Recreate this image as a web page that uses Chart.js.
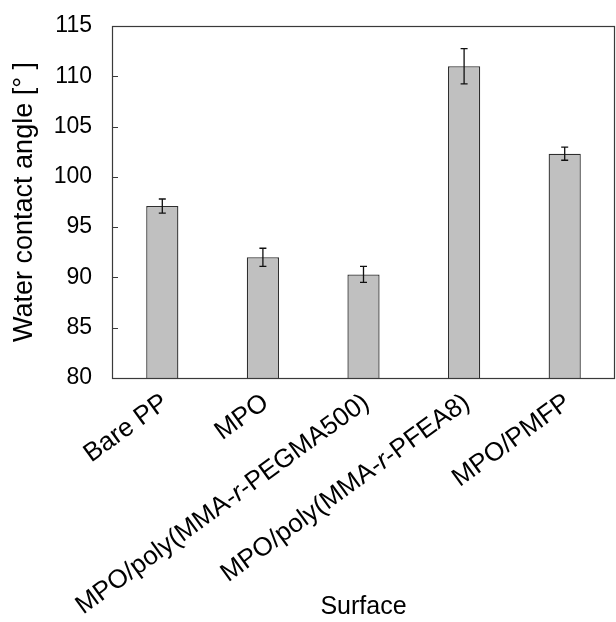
<!DOCTYPE html>
<html>
<head>
<meta charset="utf-8">
<script src="https://cdn.jsdelivr.net/npm/chart.js@4.4.1/dist/chart.umd.min.js"></script>
<style>
  html, body { margin: 0; padding: 0; background: #fff; }
  #wrap { width: 616px; height: 622px; }
</style>
</head>
<body>
<div id="wrap"><canvas id="grafWca" width="616" height="622"></canvas></div>
<script>
// data
const surfaces = ['Bare PP', 'MPO', 'MPO/poly(MMA-r-PEGMA500)', 'MPO/poly(MMA-r-PFEA8)', 'MPO/PMFP'];
const angles = [97.1, 92.0, 90.3, 111.0, 102.3];
const errs = [0.7, 0.9, 0.8, 1.75, 0.65];
const yTicks = [80, 85, 90, 95, 100, 105, 110, 115];

const fam = '"Liberation Sans", Arial, sans-serif';
const lineCol = '#3a3a3a';

// frame, inward y ticks, error bars, x labels with italic "r"
const extras = {
    id: 'extras',
    afterDatasetsDraw(chart) {
        const ctx = chart.ctx;
        const y = chart.scales.y;
        const meta = chart.getDatasetMeta(0);
        ctx.save();
        ctx.strokeStyle = '#111';
        ctx.lineWidth = 1.3;
        meta.data.forEach(function(bar, i) {
            const yt = y.getPixelForValue(angles[i] + errs[i]);
            const yb = y.getPixelForValue(angles[i] - errs[i]);
            ctx.beginPath();
            ctx.moveTo(bar.x, yt); ctx.lineTo(bar.x, yb);
            ctx.moveTo(bar.x - 3.5, yt); ctx.lineTo(bar.x + 3.5, yt);
            ctx.moveTo(bar.x - 3.5, yb); ctx.lineTo(bar.x + 3.5, yb);
            ctx.stroke();
        });
        ctx.restore();
    },
    afterDraw(chart) {
        const ctx = chart.ctx;
        const a = chart.chartArea;
        const x = chart.scales.x;
        const y = chart.scales.y;
        ctx.save();
        ctx.strokeStyle = lineCol;
        ctx.lineWidth = 1.2;
        ctx.strokeRect(a.left + 0.5, a.top + 0.5, a.right - a.left - 1, a.bottom - a.top);
        ctx.beginPath();
        yTicks.forEach(function(v) {
            const py = Math.round(y.getPixelForValue(v)) + 0.5;
            ctx.moveTo(a.left, py); ctx.lineTo(a.left + 6, py);
        });
        ctx.stroke();

        // category labels
        const nf = '26px ' + fam;
        const itf = 'italic 26px ' + fam;
        ctx.fillStyle = '#000';
        ctx.textBaseline = 'middle';
        ctx.textAlign = 'left';
        surfaces.forEach(function(lab, i) {
            let parts;
            if (lab.indexOf('-r-') >= 0) {
                const s = lab.split('-r-');
                parts = [[s[0] + '-', nf], ['r', itf], ['-' + s[1], nf]];
            } else {
                parts = [[lab, nf]];
            }
            let tot = 0;
            parts.forEach(function(p) { ctx.font = p[1]; tot += ctx.measureText(p[0]).width; });
            ctx.save();
            ctx.translate(x.getPixelForTick(i) + 3, a.bottom + 22);
            ctx.rotate(-36 * Math.PI / 180);
            let px = -tot;
            parts.forEach(function(p) {
                ctx.font = p[1];
                ctx.fillText(p[0], px, 0);
                px += ctx.measureText(p[0]).width;
            });
            ctx.restore();
        });
        ctx.restore();
    }
};

function iniGraf() {
    const ctx = document.getElementById('grafWca').getContext('2d');
    if (window.mGraf) window.mGraf.destroy();
    window.mGraf = new Chart(ctx, {
        type: 'bar',
        data: {
            labels: surfaces,
            datasets: [{
                data: angles,
                backgroundColor: '#c0c0c0',
                borderColor: '#2e2e2e',
                borderWidth: 1.3,
                barPercentage: 0.32,
                categoryPercentage: 1.0
            }]
        },
        options: {
            responsive: false,
            animation: false,
            devicePixelRatio: 1,
            layout: { padding: { top: 26, right: 1, left: 0, bottom: 0 } },
            plugins: {
                legend: { display: false },
                tooltip: { enabled: false }
            },
            scales: {
                x: {
                    grid: { display: false },
                    border: { display: false },
                    ticks: { display: false },
                    title: {
                        display: true,
                        text: 'Surface',
                        color: '#000',
                        font: { family: fam, size: 25 },
                        padding: { top: 0, bottom: 0 }
                    },
                    afterFit: function(s) { s.height = 244; }
                },
                y: {
                    min: 80,
                    max: 115,
                    grid: { display: false, drawTicks: false },
                    border: { display: false },
                    ticks: {
                        stepSize: 5,
                        padding: 20,
                        color: '#000',
                        font: { family: fam, size: 23 }
                    },
                    title: {
                        display: true,
                        text: 'Water contact angle [° ]',
                        color: '#000',
                        font: { family: fam, size: 27 },
                        padding: { top: 8, bottom: 0 }
                    },
                    afterFit: function(s) {
                        s.width = 112;
                        s.paddingTop = 0;
                        s.paddingBottom = 0;
                    }
                }
            }
        },
        plugins: [extras]
    });
}

document.addEventListener('DOMContentLoaded', iniGraf);
</script>
</body>
</html>
